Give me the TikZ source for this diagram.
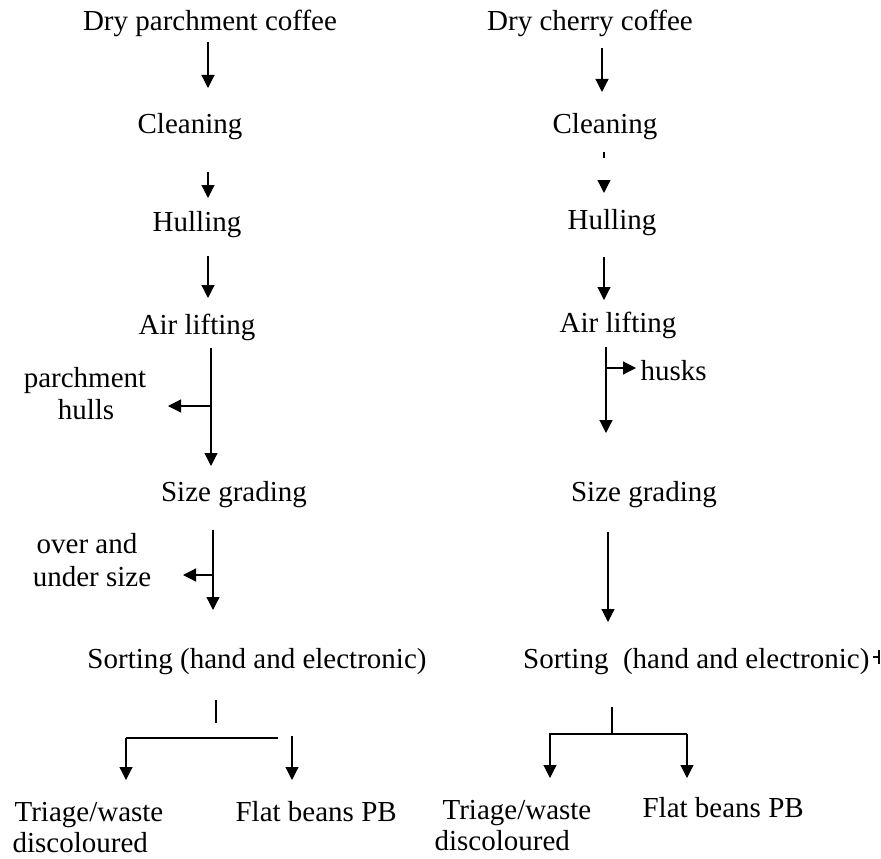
\documentclass[tikz,border=0pt]{standalone}
\usepackage{fontspec}
\setmainfont{Liberation Serif}
\usetikzlibrary{arrows.meta}
\begin{document}
\begin{tikzpicture}[x=1pt, y=-1pt, line width=1.2pt,
  lbl/.style={inner sep=0pt, anchor=base},
  lblw/.style={inner sep=0pt, anchor=base west},
  flow/.style={-{Triangle[width=13pt,length=13pt]}}]

  \fontsize{29}{32}\selectfont
  \useasboundingbox (0,0) rectangle (881,859);

  % left column
  \node[lbl] (dpc)   at (210, 31) {Dry parchment coffee};
  \node[lbl] (clnL)  at (190,133) {Cleaning};
  \node[lbl] (hulL)  at (197,231) {Hulling};
  \node[lbl] (airL)  at (197,334) {Air lifting};
  \node[lbl] (parA)  at ( 85,387) {parchment};
  \node[lbl] (parB)  at ( 86,419) {hulls};
  \node[lbl] (sizL)  at (234,501) {Size grading};
  \node[lbl] (ovrA)  at ( 87,553) {over and};
  \node[lbl] (ovrB)  at ( 92,586) {under size};
  \node[lbl] (srtL)  at (257,668) {Sorting (hand and electronic)};
  \node[lblw] (triLA) at ( 14,821) {Triage/waste};
  \node[lblw] (triLB) at ( 12,852) {discoloured};
  \node[lblw] (flaL)  at (235,821) {Flat beans PB};

  % right column
  \node[lbl] (dcc)   at (590, 31) {Dry cherry coffee};
  \node[lbl] (clnR)  at (605,133) {Cleaning};
  \node[lbl] (hulR)  at (612,229) {Hulling};
  \node[lbl] (airR)  at (618,332) {Air lifting};
  \node[lblw] (hsk)  at (640,380) {husks};
  \node[lbl] (sizR)  at (644,501) {Size grading};
  \node[inner sep=0pt, anchor=base east] (srtR) at (870,668) {Sorting\ \ (hand and electronic)};
  \node[lblw] (triRA) at (442,819) {Triage/waste};
  \node[lblw] (triRB) at (434,850) {discoloured};
  \node[lblw] (flaR)  at (642,817) {Flat beans PB};

  % left arrows
  \coordinate (l1a) at (208, 42); \coordinate (l1b) at (208, 88);
  \coordinate (l2a) at (208,172); \coordinate (l2b) at (208,198);
  \coordinate (l3a) at (208,256); \coordinate (l3b) at (208,298);
  \coordinate (l4a) at (211,348); \coordinate (l4b) at (211,466);
  \coordinate (l4c) at (211,406); \coordinate (l4d) at (168,406);
  \coordinate (l5a) at (213,530); \coordinate (l5b) at (213,610);
  \coordinate (l5c) at (213,575); \coordinate (l5d) at (183,575);
  \coordinate (l6a) at (216,700); \coordinate (l6b) at (216,723);
  \coordinate (l7a) at (126,738); \coordinate (l7b) at (278,738);
  \coordinate (l7c) at (126,780);
  \coordinate (l8a) at (292,736); \coordinate (l8b) at (292,780);

  \draw[flow] (l1a) -- (l1b); %% dpc->clnL
  \draw[flow] (l2a) -- (l2b); %% clnL->hulL
  \draw[flow] (l3a) -- (l3b); %% hulL->airL
  \draw[flow] (l4a) -- (l4b); %% airL->sizL
  \draw[flow] (l4c) -- (l4d); %% parchment hulls
  \draw[flow] (l5a) -- (l5b); %% sizL->srtL
  \draw[flow] (l5c) -- (l5d); %% over and under size
  \draw (l6a) -- (l6b);
  \draw (l7b) -- (l7a);
  \draw[flow] (l7a) -- (l7c); %% ->triage
  \draw[flow] (l8a) -- (l8b); %% ->flat beans

  % right arrows
  \coordinate (r1a) at (602, 48); \coordinate (r1b) at (602, 92);
  \coordinate (r2a) at (604,152); \coordinate (r2b) at (604,158);
  \coordinate (r2c) at (604,180); \coordinate (r2d) at (604,193);
  \coordinate (r3a) at (604,257); \coordinate (r3b) at (604,300);
  \coordinate (r4a) at (606,347); \coordinate (r4b) at (606,433);
  \coordinate (r4c) at (606,368); \coordinate (r4d) at (636,368);
  \coordinate (r5a) at (608,532); \coordinate (r5b) at (608,622);
  \coordinate (r6a) at (612,707); \coordinate (r6b) at (612,734);
  \coordinate (r7a) at (550,734); \coordinate (r7b) at (687,734);
  \coordinate (r7c) at (550,778); \coordinate (r7d) at (687,778);
  \coordinate (r8a) at (873,657); \coordinate (r8b) at (879,657);

  \draw[flow] (r1a) -- (r1b); %% dcc->clnR
  \draw (r2a) -- (r2b);
  \draw[flow] (r2c) -- (r2d); %% clnR->hulR
  \draw[flow] (r3a) -- (r3b); %% hulR->airR
  \draw[flow] (r4a) -- (r4b); %% airR->sizR
  \draw[flow] (r4c) -- (r4d); %% husks
  \draw[flow] (r5a) -- (r5b); %% sizR->srtR
  \draw (r6a) -- (r6b);
  \draw[flow] (r7b) -- (r7a) -- (r7c); %% ->triage
  \draw[flow] (r7b) -- (r7d); %% ->flat beans
  \draw (r8a) -- (r8b) (879,650) -- (879,664);
\end{tikzpicture}
\end{document}
